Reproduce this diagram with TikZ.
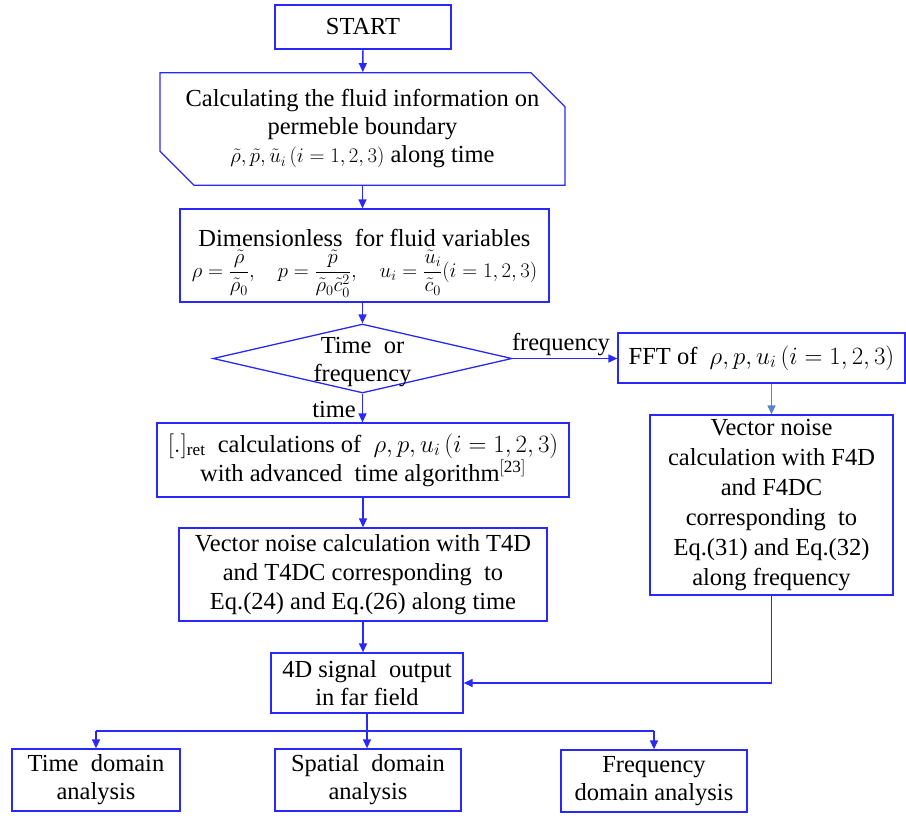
\documentclass[tikz,border=0pt]{standalone}
\usepackage{amsmath}
\usepackage{fontspec}
\setmainfont{Liberation Serif}
\usetikzlibrary{arrows.meta,shapes.misc,shapes.geometric}
\definecolor{lineblue}{RGB}{40,40,250}
\definecolor{steelarrow}{RGB}{90,130,200}
\begin{document}
\begin{tikzpicture}[x=1pt,y=-1pt,
  box/.style={draw=lineblue,line width=1.3pt,rectangle,inner sep=0pt,align=center,
    font=\fontsize{24.5}{29}\selectfont},
  arr/.style={draw=lineblue,line width=1.3pt,-{Triangle[length=9pt,width=8pt]}},
  ln/.style={draw=lineblue,line width=1.3pt},
  lab/.style={font=\fontsize{24.5}{29}\selectfont,inner sep=0pt}]
\useasboundingbox (0,0) rectangle (906,815);
\node[box,minimum width=176,minimum height=44] (start) at (363,27) {START};
\node[box,chamfered rectangle,chamfered rectangle corners={north east,south west},
  chamfered rectangle xsep=17pt,chamfered rectangle ysep=17pt,
  minimum width=405,minimum height=106,font=\fontsize{24.5}{28}\selectfont] (fluid) at (362.5,129)
  {Calculating the fluid information on\\ permeble boundary\\
   {\fontsize{22}{28}\selectfont$\tilde{\rho},\tilde{p},\tilde{u}_i\,(i=1,2,3)$} along time};
\node[box,minimum width=369,minimum height=93] (dimless) at (364.5,255.5)
  {\rule{0pt}{33pt}Dimensionless\ \ for fluid variables\\[2pt]
   {\fontsize{19.5}{22}\selectfont$\rho=\dfrac{\tilde{\rho}}{\tilde{\rho}_0},\quad p=\dfrac{\tilde{p}}{\tilde{\rho}_0\tilde{c}_0^2},\quad u_i=\dfrac{\tilde{u}_i}{\tilde{c}_0}(i=1,2,3)$}};
\node[draw=lineblue,line width=1.3pt,diamond,inner sep=0pt,minimum width=299,minimum height=69] (dec) at (362.5,358.5) {};
\node[lab,align=center,font=\fontsize{24.5}{28}\selectfont] (dectext) at (362.5,362) {Time\ \ or\\frequency};
\node[box,minimum width=287,minimum height=50] (fft) at (761.5,358)
  {FFT of\ \ $\rho,p,u_i\,(i=1,2,3)$};
\node[box,minimum width=412,minimum height=74] (ret) at (363,460)
  {$[.]_{\mathrm{ret}}$\ \ calculations of\ \ $\rho,p,u_i\,(i=1,2,3)$\\
   with advanced\ \ time algorithm$^{\mathrm{[23]}}$};
\node[box,minimum width=368,minimum height=93] (t4d) at (363,574.5)
  {Vector noise calculation with T4D\\ and T4DC corresponding\ \ to\\ Eq.(24) and Eq.(26) along time};
\node[box,minimum width=243,minimum height=180,font=\fontsize{24.5}{30}\selectfont] (f4d) at (771.5,505)
  {Vector noise\\ calculation with F4D\\ and F4DC\\ corresponding\ \ to\\ Eq.(31) and Eq.(32)\\ along frequency};
\node[box,minimum width=192,minimum height=60,font=\fontsize{24.5}{28}\selectfont] (out) at (367,683)
  {4D signal\ \ output\\ in far field};
\node[box,minimum width=168,minimum height=62,font=\fontsize{24.5}{28}\selectfont] (tda) at (96,780)
  {Time\ \ domain\\ analysis};
\node[box,minimum width=186,minimum height=62,font=\fontsize{24.5}{28}\selectfont] (sda) at (368,780)
  {Spatial\ \ domain\\ analysis};
\node[box,minimum width=186,minimum height=62,font=\fontsize{24.5}{28}\selectfont] (fda) at (654,781)
  {Frequency\\ domain analysis};
\coordinate (br) at (366,731);
\draw[arr] (start) -- (fluid);
\draw[arr] (fluid.south) -- (dimless.north -| fluid.south);
\draw[arr] (dimless.south -| dec.north) -- (dec.north);
\draw[arr] (dec.south) -- (ret.north -| dec.south);
\node[lab,anchor=east] (timelab) at (356,410) {time};
\draw[arr] (dec.east) -- (fft.west |- dec.east);
\node[lab] (freqlab) at (561,345) {frequency};
\draw[draw=steelarrow,line width=1.3pt,-{Triangle[length=9pt,width=8pt]}] (fft.south -| f4d.north) -- (f4d.north);
\draw[arr] (ret.south) -- (t4d.north -| ret.south);
\draw[arr] (t4d.south) -- (out.north -| t4d.south);
\draw[arr] (f4d.south) |- (out.east);
\draw[arr] (out.south) -- (sda.north -| out.south);
\draw[ln] (tda.north |- br) -- (fda.north |- br);
\draw[arr] (br -| tda.north) -- (tda.north);
\draw[arr] (br -| fda.north) -- (fda.north);
\end{tikzpicture}
\end{document}
